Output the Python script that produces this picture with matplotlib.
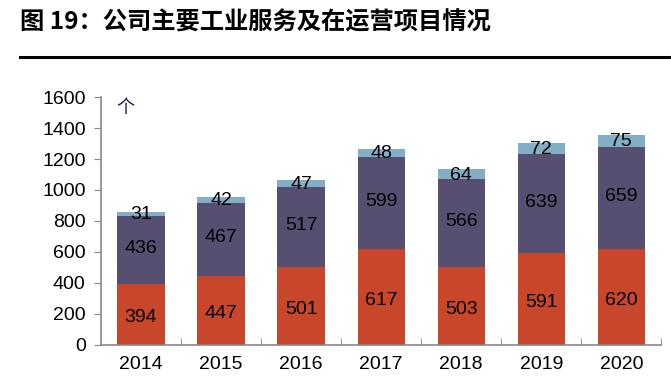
import numpy as np
import matplotlib
matplotlib.use('Agg')
from matplotlib import pyplot as plt

plt.rcParams['font.family'] = ['Liberation Sans', 'Noto Sans CJK SC', 'DejaVu Sans']

years = ['2014', '2015', '2016', '2017', '2018', '2019', '2020']
bottom_vals = [394, 447, 501, 617, 503, 591, 620]
middle_vals = [436, 467, 517, 599, 566, 639, 659]
top_vals = [31, 42, 47, 48, 64, 72, 75]

c_red = '#C8462A'
c_purple = '#564F72'
c_blue = '#82AEC6'

fig = plt.figure(figsize=(6.71, 3.85), dpi=100)
fig.text(0.03, 0.942, '图 19：公司主要工业服务及在运营项目情况', fontsize=17.5, fontweight='bold',
         family=['Noto Sans CJK SC', 'DejaVu Sans'], va='center', ha='left')
fig.add_artist(plt.Line2D([0.03, 1.0], [0.852, 0.852], color='black', lw=2.2))

ax = fig.add_axes([0.1505, 0.104, 0.835, 0.644])
x = np.arange(len(years))
w = 0.59
b1 = np.array(bottom_vals)
b2 = b1 + np.array(middle_vals)
ax.bar(x, bottom_vals, w, color=c_red)
ax.bar(x, middle_vals, w, bottom=b1, color=c_purple)
ax.bar(x, top_vals, w, bottom=b2, color=c_blue)

for i in range(len(years)):
    ax.text(x[i], bottom_vals[i] / 2 - 20, str(bottom_vals[i]), ha='center', va='center', fontsize=14)
    ax.text(x[i], b1[i] + middle_vals[i] / 2 + 10, str(middle_vals[i]), ha='center', va='center', fontsize=14)
    ax.text(x[i], b2[i] + top_vals[i] / 2 - 5, str(top_vals[i]), ha='center', va='center', fontsize=14)

ax.set_xlim(-0.5, len(years) - 0.5)
ax.set_ylim(0, 1600)
ax.set_yticks(np.arange(0, 1601, 200))
ax.set_xticks(x)
ax.set_xticklabels(years)
ax.set_xticks(np.arange(0.5, len(years), 1), minor=True)
ax.tick_params(axis='x', which='major', length=0, labelsize=14, pad=8)
ax.tick_params(axis='x', which='minor', length=5, direction='in', color='#888888')
ax.tick_params(axis='y', length=5, direction='out', color='#888888', labelsize=14, pad=6)
for s in ['top', 'right']:
    ax.spines[s].set_visible(False)
for s in ['left', 'bottom']:
    ax.spines[s].set_color('#888888')
    ax.spines[s].set_linewidth(1.2)
ax.text(0.028, 0.99, '个', transform=ax.transAxes, fontsize=13, va='top', ha='left',
        family=['Noto Sans CJK SC', 'DejaVu Sans'], color='#1F1F4F')

fig.savefig('out.png', dpi=100)
